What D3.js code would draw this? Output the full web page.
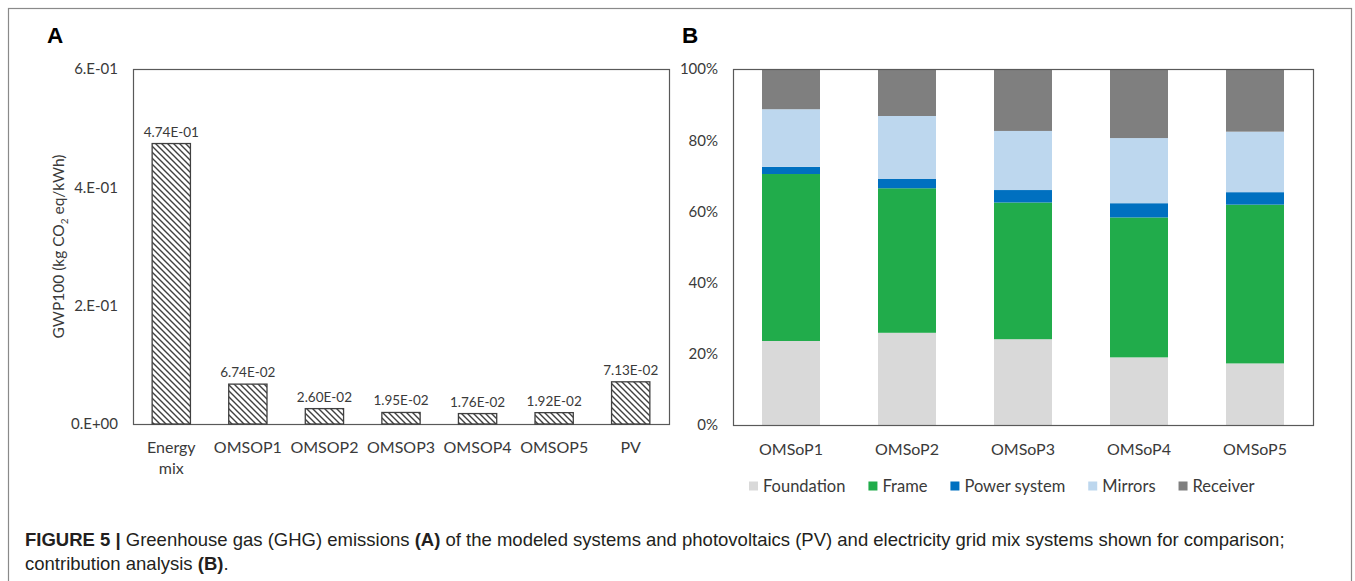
<!DOCTYPE html>
<html>
<head>
<meta charset="utf-8">
<script src="https://cdn.jsdelivr.net/npm/d3@7"></script>
<style>
  html, body { margin: 0; padding: 0; background: #fff; }
  svg { display: block; }
</style>
</head>
<body>
<svg id="chart" width="1355" height="581"></svg>
<script>
// ---------- DATA ----------
const categoriesA = ["Energy mix", "OMSOP1", "OMSOP2", "OMSOP3", "OMSOP4", "OMSOP5", "PV"];
const valuesA = [0.474, 0.0674, 0.0260, 0.0195, 0.0176, 0.0192, 0.0713];
const yTicksA = [0, 0.2, 0.4, 0.6];
const yTickLabelsA = ["0.E+00", "2.E-01", "4.E-01", "6.E-01"];

const categoriesB = ["OMSoP1", "OMSoP2", "OMSoP3", "OMSoP4", "OMSoP5"];
const seriesB = ["Foundation", "Frame", "Power system", "Mirrors", "Receiver"];
const foundation = [23.6, 25.9, 24.1, 19.0, 17.3];
const frame      = [46.9, 40.6, 38.4, 39.3, 44.6];
const powerSys   = [2.0, 2.6, 3.5, 4.0, 3.5];
const mirrors    = [16.2, 17.7, 16.6, 18.3, 17.0];
const receiver   = [11.3, 13.2, 17.4, 19.4, 17.6];
const yTicksB = [0, 20, 40, 60, 80, 100];
const yTickLabelsB = ["0%", "20%", "40%", "60%", "80%", "100%"];
const colorsB = ["#d9d9d9", "#21ac4b", "#0070c0", "#bdd7ee", "#7f7f7f"];

const captionBold1 = "FIGURE 5 |";
const captionLine1 = " Greenhouse gas (GHG) emissions ";
const captionLine1b = "(A)";
const captionLine1c = " of the modeled systems and photovoltaics (PV) and electricity grid mix systems shown for comparison;";
const captionLine2 = "contribution analysis ";
const captionLine2b = "(B)";
const captionLine2c = ".";

// ---------- SETUP ----------
const svg = d3.select("#chart");
const chartFont = "Lato, 'Open Sans', sans-serif";
const textColor = "#3a3a3a";
const axisColor = "#595959";

// outer frame
svg.append("rect").attr("x", 8.5).attr("y", 8.5).attr("width", 1343).attr("height", 600)
  .attr("fill", "none").attr("stroke", "#8a8a8a").attr("stroke-width", 1.2);

// hatch pattern
const defs = svg.append("defs");
const pat = defs.append("pattern").attr("id", "hatch")
  .attr("patternUnits", "userSpaceOnUse").attr("width", 6).attr("height", 6);
pat.append("rect").attr("width", 6).attr("height", 6).attr("fill", "#fff");
pat.append("path").attr("d", "M0,0 L6,6 M-1,5 L1,7 M5,-1 L7,1")
  .attr("stroke", "#404040").attr("stroke-width", 1.4);

function sciLabel(v) {
  const e = Math.floor(Math.log10(Math.abs(v)));
  let m = v / Math.pow(10, e);
  let mm = m.toFixed(2);
  let ee = e;
  if (parseFloat(mm) >= 10) { ee += 1; mm = (v / Math.pow(10, ee)).toFixed(2); }
  const sign = ee < 0 ? "-" : "+";
  return mm + "E" + sign + String(Math.abs(ee)).padStart(2, "0");
}

// ---------- PANEL A ----------
const A = { left: 133, right: 669, top: 69, bottom: 424 };
const xA = d3.scaleBand().domain(categoriesA).range([A.left, A.right]).paddingInner(0.5).paddingOuter(0.25);
const yA = d3.scaleLinear().domain([0, 0.6]).range([A.bottom, A.top]);

const gA = svg.append("g");
gA.append("text").attr("x", 47).attr("y", 43).text("A")
  .attr("font-family", "'Liberation Sans', Arial, sans-serif").attr("font-weight", "bold")
  .attr("font-size", 22.5).attr("fill", "#000");

gA.append("rect").attr("x", A.left + 0.5).attr("y", A.top + 0.5)
  .attr("width", A.right - A.left).attr("height", A.bottom - A.top)
  .attr("fill", "none").attr("stroke", axisColor).attr("stroke-width", 1.2);

const yAxisA = d3.axisLeft(yA).tickValues(yTicksA).tickSize(0).tickPadding(15)
  .tickFormat((d, i) => yTickLabelsA[i]);
const gyA = gA.append("g").attr("transform", `translate(${A.left},0)`).call(yAxisA);
gyA.select(".domain").remove();
gyA.selectAll("text").attr("font-family", chartFont).attr("font-size", 15).attr("fill", textColor);

gA.selectAll("rect.barA").data(valuesA).join("rect").attr("class", "barA")
  .attr("x", (d, i) => xA(categoriesA[i]))
  .attr("y", d => yA(d))
  .attr("width", xA.bandwidth())
  .attr("height", d => yA(0) - yA(d))
  .attr("fill", "url(#hatch)").attr("stroke", "#404040").attr("stroke-width", 1.3);

gA.selectAll("text.valA").data(valuesA).join("text").attr("class", "valA")
  .attr("x", (d, i) => xA(categoriesA[i]) + xA.bandwidth() / 2)
  .attr("y", d => yA(d) - 7)
  .attr("text-anchor", "middle")
  .attr("font-family", chartFont).attr("font-size", 13.5).attr("fill", textColor)
  .text(d => sciLabel(d));

const xAxisA = d3.axisBottom(xA).tickSize(0).tickPadding(0);
const gxA = gA.append("g").attr("transform", `translate(0,${A.bottom})`).call(xAxisA);
gxA.select(".domain").remove();
gxA.selectAll("text").each(function (d) {
  const t = d3.select(this);
  t.text(null).attr("y", 0).attr("dy", null)
    .attr("font-family", chartFont).attr("font-size", 16).attr("fill", textColor);
  const words = d.split(" ");
  if (words.length > 1 && d === "Energy mix") {
    t.append("tspan").attr("x", 0).attr("y", 29).text(words[0]);
    t.append("tspan").attr("x", 0).attr("y", 50).text(words[1]);
  } else {
    t.append("tspan").attr("x", 0).attr("y", 29).text(d);
  }
});

const yTitle = gA.append("text")
  .attr("transform", `translate(64,${(A.top + A.bottom) / 2}) rotate(-90)`)
  .attr("text-anchor", "middle")
  .attr("font-family", chartFont).attr("font-size", 15.5).attr("fill", textColor);
yTitle.append("tspan").text("GWP100 (kg CO");
yTitle.append("tspan").attr("font-size", 10).attr("dy", 4).text("2");
yTitle.append("tspan").attr("dy", -4).text(" eq/kWh)");

// ---------- PANEL B ----------
const B = { left: 733, right: 1313, top: 69, bottom: 425 };
const xB = d3.scaleBand().domain(categoriesB).range([B.left, B.right]).paddingInner(0.5).paddingOuter(0.25);
const yB = d3.scaleLinear().domain([0, 100]).range([B.bottom, B.top]);

const gB = svg.append("g");
gB.append("text").attr("x", 682).attr("y", 43).text("B")
  .attr("font-family", "'Liberation Sans', Arial, sans-serif").attr("font-weight", "bold")
  .attr("font-size", 22.5).attr("fill", "#000");

const tableB = categoriesB.map((c, i) => ({
  cat: c, Foundation: foundation[i], Frame: frame[i], "Power system": powerSys[i],
  Mirrors: mirrors[i], Receiver: receiver[i]
}));
const stackB = d3.stack().keys(seriesB)(tableB);

gB.selectAll("g.layer").data(stackB).join("g").attr("class", "layer")
  .attr("fill", (d, i) => colorsB[i])
  .selectAll("rect").data(d => d).join("rect")
  .attr("x", d => xB(d.data.cat))
  .attr("y", d => yB(d[1]))
  .attr("width", xB.bandwidth())
  .attr("height", d => yB(d[0]) - yB(d[1]));

gB.append("rect").attr("x", B.left + 0.5).attr("y", B.top + 0.5)
  .attr("width", B.right - B.left).attr("height", B.bottom - B.top)
  .attr("fill", "none").attr("stroke", axisColor).attr("stroke-width", 1.2);

const yAxisB = d3.axisLeft(yB).tickValues(yTicksB).tickSize(0).tickPadding(15)
  .tickFormat((d, i) => yTickLabelsB[i]);
const gyB = gB.append("g").attr("transform", `translate(${B.left},0)`).call(yAxisB);
gyB.select(".domain").remove();
gyB.selectAll("text").attr("font-family", chartFont).attr("font-size", 15).attr("fill", textColor);

const xAxisB = d3.axisBottom(xB).tickSize(0).tickPadding(0);
const gxB = gB.append("g").attr("transform", `translate(0,${B.bottom})`).call(xAxisB);
gxB.select(".domain").remove();
gxB.selectAll("text").attr("y", 30).attr("dy", null)
  .attr("font-family", chartFont).attr("font-size", 16).attr("fill", textColor);

// legend
const leg = gB.append("g").attr("transform", "translate(749,486)");
let lx = 0;
seriesB.forEach((s, i) => {
  leg.append("rect").attr("x", lx).attr("y", -4.5).attr("width", 9).attr("height", 9).attr("fill", colorsB[i]);
  const t = leg.append("text").attr("x", lx + 14).attr("y", 5.5)
    .attr("font-family", chartFont).attr("font-size", 16.5).attr("fill", textColor).text(s);
  lx += 14 + t.node().getComputedTextLength() + 23;
});

// ---------- CAPTION ----------
const capFont = "'Liberation Sans', Arial, Helvetica, sans-serif";
const cap1 = svg.append("text").attr("x", 25).attr("y", 546)
  .attr("font-family", capFont).attr("font-size", 18.5).attr("fill", "#231f20");
cap1.append("tspan").attr("font-weight", "bold").text(captionBold1);
cap1.append("tspan").text(captionLine1);
cap1.append("tspan").attr("font-weight", "bold").text(captionLine1b);
cap1.append("tspan").text(captionLine1c);
const cap2 = svg.append("text").attr("x", 25).attr("y", 570)
  .attr("font-family", capFont).attr("font-size", 18.5).attr("fill", "#231f20");
cap2.append("tspan").text(captionLine2);
cap2.append("tspan").attr("font-weight", "bold").text(captionLine2b);
cap2.append("tspan").text(captionLine2c);
</script>
</body>
</html>
